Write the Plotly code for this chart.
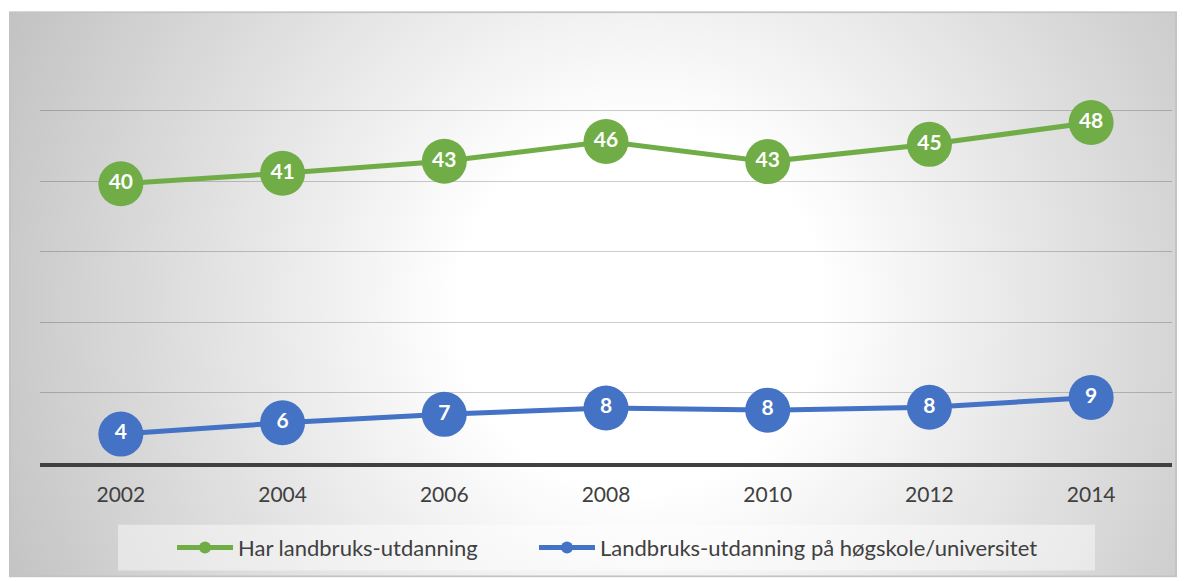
import base64
import plotly.graph_objects as go

years = ["2002", "2004", "2006", "2008", "2010", "2012", "2014"]
har_landbruk = [39.6, 41.1, 42.8, 45.6, 42.75, 45.2, 48.3]
hogskole = [4.1, 5.7, 6.9, 7.8, 7.5, 7.9, 9.3]
series_names = ["Har landbruks-utdanning", "Landbruks-utdanning på høgskole/universitet"]
series_colors = ["#70ad47", "#4472c4"]

W, H = 1187, 581
L, R, T, B = 40, 15, 40, 116
pw, ph = W - L - R, H - T - B

def px_to_paper_x(p):
    return (p - L) / pw

def px_to_paper_y(p):
    return (H - B - p) / ph

# background radial gradient (Excel-like) as an SVG image
bx0, by0, bx1, by1 = 9, 11, 1177, 580
bw, bh = bx1 - bx0, by1 - by0
svg = f'''<svg xmlns="http://www.w3.org/2000/svg" width="{bw}" height="{bh}" viewBox="0 0 {bw} {bh}" preserveAspectRatio="none">
<defs><radialGradient id="g" gradientUnits="userSpaceOnUse" cx="{640-bx0}" cy="{310-by0}" r="700">
<stop offset="0" stop-color="#ffffff"/><stop offset="0.26" stop-color="#ffffff"/><stop offset="1" stop-color="#c2c2c2"/>
</radialGradient></defs>
<rect x="1" y="1" width="{bw-2}" height="{bh-2}" fill="url(#g)" stroke="#c4c4c4" stroke-width="2"/>
</svg>'''
src = "data:image/svg+xml;base64," + base64.b64encode(svg.encode()).decode()

legend_ids = ["legend", "legend2"]
fig = go.Figure()
for vals, name, col, lg in [(har_landbruk, series_names[0], series_colors[0], legend_ids[0]),
                            (hogskole, series_names[1], series_colors[1], legend_ids[1])]:
    fig.add_trace(go.Scatter(
        x=years, y=vals, name=name, legend=lg,
        mode="lines+markers+text",
        line=dict(color=col, width=5),
        marker=dict(color=col, size=45),
        text=[f"{round(v):d}" for v in vals],
        textposition="middle center",
        textfont=dict(family="Lato", size=21, color="white", weight="bold"),
        cliponaxis=False,
    ))

fig.add_layout_image(dict(
    source=src, xref="paper", yref="paper",
    x=px_to_paper_x(bx0), y=px_to_paper_y(by0),
    sizex=bw / pw, sizey=bh / ph,
    xanchor="left", yanchor="top", sizing="stretch", layer="below",
))

# legend box
fig.add_shape(type="rect", xref="paper", yref="paper",
              x0=px_to_paper_x(118), x1=px_to_paper_x(1095),
              y0=px_to_paper_y(573), y1=px_to_paper_y(527),
              fillcolor="rgba(255,255,255,0.45)", line=dict(width=0), layer="below")

leg_common = dict(orientation="h", xanchor="left", y=px_to_paper_y(550), yanchor="middle",
                  bgcolor="rgba(0,0,0,0)", font=dict(size=22, color="#404040"),
                  itemsizing="constant", itemwidth=56)

fig.update_layout(
    width=W, height=H,
    margin=dict(l=L, r=R, t=T, b=B),
    paper_bgcolor="white",
    plot_bgcolor="rgba(0,0,0,0)",
    font=dict(family="Lato", color="#404040"),
    showlegend=True,
    legend=dict(x=px_to_paper_x(172), **leg_common),
    legend2=dict(x=px_to_paper_x(534), **leg_common),
    xaxis=dict(type="category", range=[-0.5, 6.5], showgrid=False,
               showline=True, linecolor="#404040", linewidth=4,
               tickfont=dict(size=21, color="#404040"), ticks="", ticklabelstandoff=10),
    yaxis=dict(range=[0, 60], dtick=10, showgrid=True, gridcolor="rgba(0,0,0,0.2)", gridwidth=1.3,
               showticklabels=False, zeroline=False, showline=False),
)

fig.write_html("out.html", post_script="document.body.style.margin='0';",
               config={"displayModeBar": False})
